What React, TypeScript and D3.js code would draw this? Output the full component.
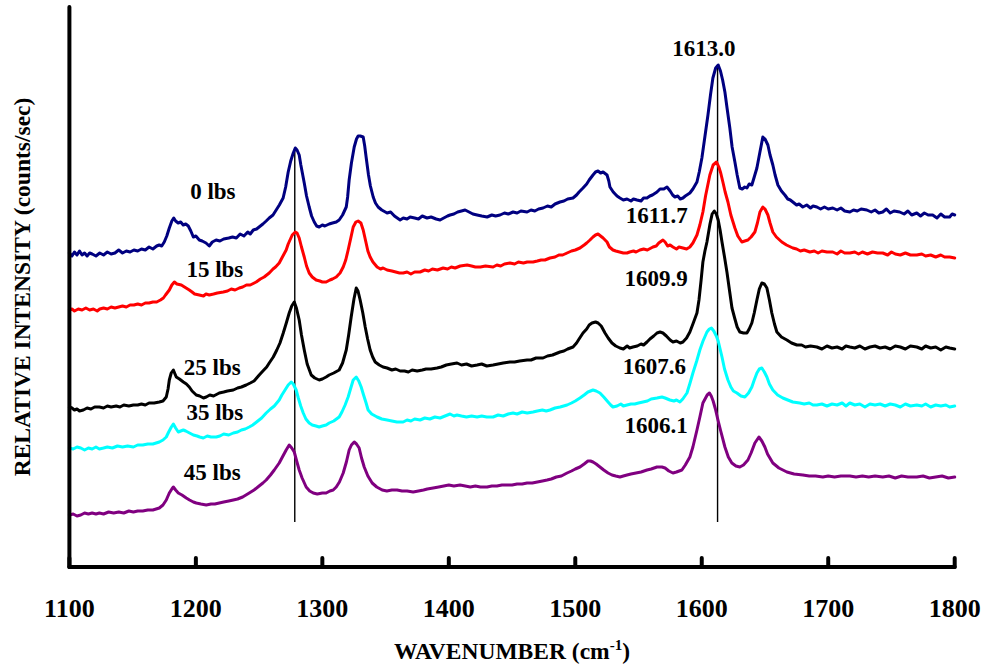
import React from "react";
import * as d3 from "d3";

// Wavenumber axis ticks (cm-1)
const xTicks = [1100, 1200, 1300, 1400, 1500, 1600, 1700, 1800];

// Raman spectra, [wavenumber, relative intensity] for each load
const spectrum0lbs: number[][] = [
  [1100,314],[1102,311],[1104,315],[1106,312],[1108,316],[1110,312],[1112,314],[1114,311],[1116,314],[1118,313],[1121,311],[1124,314],[1127,312],[1130,315],[1133,313],[1136,314],[1139,317],[1142,314],[1145,316],[1148,315],[1151,317],[1154,316],[1157,318],[1160,317],[1163,320],[1166,318],[1169,321],[1171,322],[1173,321],[1175,325],[1177,331],[1179,339],[1181,346],[1182.5,349],[1184,346],[1186,344],[1188,345],[1190,342],[1192,343],[1194,341],[1196,336],[1198,330],[1200,331],[1202.7,327],[1205,326],[1208,324],[1210.6,321],[1213,325],[1216,327],[1219,326],[1222,328],[1226,329],[1229,330],[1232,329],[1235,333],[1238,331],[1241,335],[1243,333],[1245.4,337],[1248,338],[1251,341],[1253,343],[1255.6,346],[1258,349],[1261,352],[1263.5,357],[1266,362],[1269,369],[1271,380],[1273,395],[1275,406],[1277,414],[1278.6,419],[1280,417],[1281.7,412],[1283,402],[1285.7,384],[1287.5,371],[1289.6,360],[1291.5,351],[1293.6,345],[1295.5,341],[1297.5,340],[1300,342],[1302,341],[1305.4,343],[1308,344],[1311,345],[1313.3,347],[1316,352],[1318.9,360],[1320,370],[1321.2,387],[1323,404],[1325.2,420],[1327,428],[1328.3,431],[1330,431],[1332.3,430],[1333.5,421],[1334.6,410],[1336.5,392],[1338,381],[1340.2,370],[1342,364],[1344.1,360],[1347,357],[1351.2,354],[1354,355],[1357,351],[1361.5,347],[1364,349],[1367,348],[1369.4,350],[1373,349],[1376,348],[1379,351],[1382.8,349],[1386,350],[1390,348],[1393.1,347],[1396,349],[1399,351],[1401,352],[1404,353],[1407,355],[1410,356],[1412.9,357],[1416,355],[1419,353],[1422.4,352],[1426,351],[1430.3,350],[1434,352],[1437,351],[1440.5,352],[1444,354],[1447,353],[1450.8,355],[1454,354],[1457,356],[1461.9,355],[1465,357],[1468,356],[1471,358],[1474.5,359],[1478,361],[1481,360],[1484,363],[1487.9,365],[1491,366],[1494,368],[1498.2,369],[1501,372],[1503,375],[1506.1,379],[1509,383],[1511,387],[1514,392],[1516,395],[1518,396],[1520,394],[1522,395],[1525.1,392],[1526.5,386],[1527.4,380],[1530,375],[1533,371],[1535.3,369],[1538,367],[1540.9,368],[1544,366],[1546,368],[1548.8,367],[1552,366],[1554,369],[1556.7,369],[1559,371],[1561,372],[1564.6,375],[1567,378],[1570,378],[1572.5,380],[1575,376],[1577,372],[1578.8,370],[1581,371],[1583,368],[1585.1,369],[1587,371],[1590.6,374],[1593,378],[1596.2,385],[1598,395],[1600.1,409],[1602,426],[1604.9,452],[1607,473],[1608.8,489],[1611,499],[1613,502],[1614.8,496],[1616.5,487],[1618.3,475],[1620,459],[1622.2,439],[1624,420],[1626.2,405],[1628,392],[1630.1,379],[1632,378],[1634,380],[1635.7,379],[1637.5,383],[1639.6,382],[1641.5,390],[1643.6,399],[1646,415],[1648.3,430],[1650,428],[1652.3,422],[1654,412],[1656.2,402],[1658,392],[1660.2,382],[1663,376],[1665.7,372],[1668,368],[1670,367],[1672,365],[1675,362],[1677,363],[1679.9,360],[1683,362],[1686,359],[1688,361],[1691,360],[1694,358],[1697,360],[1700,358],[1703.6,359],[1707,357],[1710,359],[1713,356],[1717.1,355],[1720,357],[1723,356],[1726,358],[1730.5,357],[1734,355],[1737,357],[1740,354],[1743.1,355],[1746,358],[1749,354],[1752,356],[1756.5,355],[1760,353],[1763,356],[1766,352],[1770,354],[1773,351],[1776,354],[1779,352],[1782.6,352],[1786,349],[1789,353],[1792,350],[1796,350],[1798,353],[1800,352]
];

const spectrum15lbs: number[][] = [
  [1100,257],[1102,258],[1104,256],[1107,258],[1110,257],[1113,259],[1116,257],[1119,258],[1122,256],[1124,258],[1127,259],[1130,258],[1133,260],[1136,259],[1139,260],[1142,261],[1145,260],[1148,262],[1151,262],[1154,263],[1157,262],[1160,264],[1163,264],[1166,265],[1169,265],[1172,267],[1174.3,269],[1176,272],[1179,277],[1181,282],[1183,285],[1185,283],[1188.5,282],[1191,280],[1194.8,277],[1197,275],[1199,273],[1202.7,272],[1206,271],[1208,273],[1210.6,272],[1214,273],[1217,274],[1221.7,275],[1225,276],[1228,278],[1231,277],[1234.3,279],[1237,280],[1240,282],[1243,282],[1247.7,285],[1251,288],[1254,290],[1258,294],[1261,298],[1263,300],[1265.9,304],[1268,309],[1271.4,317],[1273,323],[1276.2,332],[1278.6,335],[1280,334],[1281.7,329],[1283.5,320],[1285.7,310],[1287.5,301],[1289.6,294],[1292,290],[1295.1,287],[1298,286],[1300,285],[1303,285],[1306,287],[1308,288],[1311,290],[1314,294],[1316.5,300],[1318.5,307],[1320.4,317],[1322.5,329],[1324.4,340],[1326.5,345],[1328.3,346],[1330.5,344],[1332.3,337],[1334.6,324],[1336,316],[1337.8,310],[1340,305],[1343.3,300],[1346,298],[1348,299],[1351.2,297],[1355,296],[1358,295],[1361,294],[1363.9,294],[1367,295],[1370,293],[1373,295],[1377.3,295],[1381,297],[1384,296],[1387,298],[1391,297],[1395.5,299],[1399,298],[1402,300],[1405,299],[1409,301],[1414.5,302],[1418,301],[1421,300],[1425,300],[1429,301],[1435,300],[1438,302],[1441,301],[1444,303],[1448.4,304],[1452,303],[1455,305],[1459,304],[1462,305],[1466.6,305],[1470,306],[1473,307],[1476,307],[1480,309],[1484,310],[1487,312],[1490,312],[1493.5,314],[1497,316],[1500,317],[1503.7,319],[1507,322],[1509,324],[1511.6,327],[1514,330],[1516,332],[1518,333],[1520,331],[1522,329],[1525.1,325],[1527,320],[1529.8,317],[1532,316],[1535,315],[1538,314],[1540.9,314],[1543,315],[1546,316],[1548,315],[1551.1,317],[1554,318],[1557,317],[1561.4,320],[1564,321],[1566,324],[1569.3,327],[1571,325],[1573,321],[1575,322],[1577.2,320],[1580,318],[1582,320],[1585.1,319],[1588,318],[1590.6,320],[1593,324],[1596.2,332],[1598.5,342],[1600.9,355],[1603,371],[1606.4,392],[1609,402],[1611.7,405],[1613.5,400],[1615,394],[1616.7,385],[1618.5,375],[1620.7,365],[1623,352],[1626.2,339],[1628.5,331],[1631.7,325],[1634,326],[1636.5,327],[1639,330],[1642,335],[1644,344],[1646,355],[1648.3,360],[1650,358],[1652.3,352],[1654,344],[1656.2,335],[1659,330],[1663.3,325],[1667,322],[1672,319],[1675,318],[1678,316],[1681,317],[1685.5,315],[1689,316],[1692,314],[1695,316],[1699,315],[1703.6,315],[1707,313],[1710,316],[1713,314],[1717.1,314],[1721,315],[1724,313],[1727,315],[1731,313],[1735,315],[1739,314],[1743.1,314],[1747,312],[1750,315],[1753,313],[1757,312],[1761,314],[1765,312],[1770,312],[1774,313],[1777,311],[1781,312],[1785,310],[1789,312],[1792,310],[1796,310],[1800,309]
];

const spectrum25lbs: number[][] = [
  [1100,160],[1102,159],[1104,157],[1106,158],[1108,156],[1111,157],[1114,159],[1117,158],[1120,160],[1123.7,160],[1127,159],[1130,161],[1133,160],[1137,161],[1140,160],[1143,162],[1147,161],[1150.6,162],[1154,162],[1157,163],[1160,162],[1163,164],[1167,164],[1171.1,165],[1174,166],[1176.6,170],[1178,178],[1179,187],[1180.5,194],[1182.2,197],[1183.5,193],[1184.5,190],[1187,188],[1190.1,185],[1192.5,183],[1194.8,180],[1197,176],[1200.3,172],[1203,171],[1206,169],[1208.2,170],[1211,172],[1214,171],[1218.5,174],[1222,175],[1225,176],[1229.6,177],[1233,179],[1236,180],[1239.8,182],[1243,184],[1246,186],[1250.1,192],[1253,196],[1256,200],[1258,204],[1261.2,210],[1264,217],[1266.5,224],[1269.1,234],[1271.5,244],[1273.8,254],[1275.8,261],[1277.8,265],[1279.5,259],[1281.7,247],[1283.5,232],[1285.7,217],[1288,203],[1291.2,192],[1294,189],[1297.5,187],[1300,188],[1303,190],[1305.4,192],[1309,194],[1313.3,197],[1316,204],[1318.9,217],[1320.8,232],[1322.8,250],[1325,268],[1326.8,279],[1328.2,276],[1329.9,267],[1332,254],[1333.9,240],[1335.8,228],[1337.8,217],[1339.8,210],[1341.8,205],[1345,202],[1348,200],[1351.2,199],[1355,197],[1358,198],[1361.5,196],[1365,196],[1368,195],[1371,197],[1375,196],[1379,197],[1382,198],[1386,198],[1390.7,199],[1394,200],[1398,202],[1402,203],[1406.5,204],[1410,202],[1414,203],[1418,201],[1422.4,202],[1426,203],[1430,201],[1435,202],[1439,203],[1443,204],[1448.4,205],[1452,205],[1456,206],[1461.9,207],[1465,207],[1469,209],[1474.5,209],[1478,211],[1482,212],[1487.9,215],[1491,216],[1494,218],[1498.2,220],[1501,224],[1503,228],[1506.1,234],[1509,238],[1511,242],[1513.2,244],[1516,245],[1518,244],[1520.5,241],[1523.5,234],[1526,229],[1529,224],[1532,221],[1535.3,219],[1538,218],[1541,221],[1543,219],[1545.6,220],[1549,221],[1552,223],[1554,222],[1556.7,225],[1559,228],[1562,231],[1564.6,234],[1567,235],[1569.3,234],[1572,231],[1575,227],[1577.2,225],[1580,226],[1583,224],[1585.1,225],[1588,229],[1590.6,235],[1593,243],[1596.2,254],[1597.8,267],[1599.5,287],[1600.9,305],[1602.5,316],[1604.1,325],[1606.5,343],[1608.2,353],[1609.9,356],[1611.5,353],[1613,347],[1614.5,337],[1616,325],[1618,310],[1619.9,295],[1622,276],[1623.9,259],[1626,249],[1628,240],[1630.1,235],[1633,234],[1635.7,234],[1637.5,238],[1639.6,244],[1641.5,254],[1643.6,267],[1645.5,278],[1647.5,284],[1649.5,283],[1651.5,279],[1653.5,267],[1655.4,254],[1657.5,243],[1659.4,235],[1663,230],[1667.3,227],[1671,224],[1675.2,222],[1679,222],[1682,220],[1686,221],[1691,220],[1695,218],[1699,221],[1703,219],[1707,220],[1711,218],[1714,221],[1717.1,220],[1721,219],[1725,221],[1729,218],[1733,220],[1737,221],[1741,219],[1745,220],[1749,218],[1753,221],[1757,220],[1761,218],[1765,221],[1770,220],[1774,218],[1777,221],[1781,219],[1785,220],[1789,217],[1793,220],[1796,219],[1800,218]
];

const spectrum35lbs: number[][] = [
  [1100,119],[1103,118],[1106,120],[1109,119],[1112,117],[1115,119],[1118,118],[1121,120],[1123.7,118],[1127,119],[1130,120],[1134,119],[1138,121],[1142,120],[1146,121],[1150.6,120],[1154,122],[1158,122],[1162,123],[1166,123],[1171.1,125],[1174,127],[1176.6,130],[1178.5,135],[1180.6,140],[1182.2,143],[1184,139],[1186.1,135],[1188,136],[1190.1,137],[1192,136],[1195,134],[1198,132],[1201,131],[1203,130],[1205.9,129],[1209,131],[1212,130],[1216.1,130],[1219,131],[1222,133],[1226,132],[1229.6,134],[1233,135],[1236,137],[1239,138],[1242.2,140],[1245,142],[1248,145],[1252,149],[1255.6,154],[1259,158],[1262,161],[1265.9,167],[1268,172],[1270.5,177],[1273,182],[1275.4,185],[1277,183],[1279.3,177],[1281,169],[1282.9,161],[1284.9,154],[1287,148],[1289.6,144],[1292,142],[1295,141],[1297.5,140],[1300,141],[1303,142],[1305.4,144],[1309,146],[1313.3,150],[1315.5,155],[1318,162],[1320.4,170],[1322.5,179],[1324.4,187],[1326.8,190],[1328.8,186],[1330.7,180],[1332.6,172],[1334.6,164],[1336.2,157],[1339,153],[1343.3,150],[1347,148],[1351.2,147],[1355,146],[1359,145],[1363.9,145],[1367,147],[1370,146],[1373,148],[1377.3,147],[1381,149],[1385,148],[1389,150],[1393.1,149],[1397,151],[1401,153],[1404,151],[1406.5,152],[1410,151],[1414,150],[1418,151],[1422.4,150],[1426,151],[1430,150],[1435,150],[1439,152],[1443,151],[1447,153],[1450.8,154],[1454,153],[1458,155],[1462,154],[1466.6,155],[1470,156],[1474,157],[1477,156],[1480,157],[1484,159],[1488,160],[1493.5,162],[1497,164],[1500,166],[1503.7,169],[1507,172],[1510,175],[1512,176],[1514,177],[1516.5,176],[1519.5,174],[1522.5,170],[1525.9,165],[1528,162],[1529.8,160],[1533,161],[1536,163],[1538,161],[1540.9,162],[1544,163],[1547,163],[1550,164],[1553.5,165],[1557,166],[1560,168],[1564.6,169],[1568.5,170],[1571,169],[1574.8,167],[1578,166],[1580,167],[1582.7,165],[1585,168],[1588.3,174],[1590.5,183],[1593,194],[1596,206],[1598.5,217],[1601,226],[1604.1,235],[1606,238],[1607.6,239],[1609.5,236],[1611.5,231],[1613,226],[1614.5,218],[1616,210],[1618,198],[1620.7,187],[1623,180],[1625,176],[1627.8,174],[1631,171],[1634.1,170],[1637,174],[1639.6,180],[1641.5,187],[1643.6,194],[1645.5,198],[1647.5,199],[1649.5,195],[1651.5,190],[1653.5,183],[1656.2,177],[1660,172],[1664.1,169],[1668,167],[1672,165],[1677.5,164],[1681,163],[1685,164],[1688,162],[1691,162],[1695,163],[1699,161],[1703,163],[1707,162],[1711,164],[1714,161],[1717.1,164],[1721,162],[1725,163],[1729,160],[1733,163],[1737,162],[1741,163],[1745,161],[1749,163],[1753,162],[1757,160],[1761,163],[1765,161],[1770,162],[1774,161],[1777,163],[1781,160],[1785,162],[1789,161],[1793,162],[1796,160],[1800,161]
];

const spectrum45lbs: number[][] = [
  [1100,52],[1103,53],[1106,51],[1109,52],[1112,54],[1115,53],[1118,54],[1121,53],[1123.7,54],[1127,53],[1131,55],[1135,54],[1139,55],[1143,54],[1147,56],[1150.6,55],[1154,56],[1158,56],[1162,57],[1166,57],[1171.1,59],[1174,62],[1176.6,67],[1179,74],[1181,78],[1182.2,80],[1184,77],[1186.1,74],[1189,72],[1192.4,69],[1195,67],[1198,65],[1200.3,64],[1204,63],[1208.2,62],[1212,63],[1215,63],[1218.5,64],[1222,65],[1226,66],[1229.6,67],[1233,68],[1237,70],[1242.2,74],[1246,77],[1250,81],[1253,84],[1255.6,87],[1259,92],[1262,97],[1265.9,104],[1268,109],[1271.4,117],[1273.8,122],[1275.8,119],[1277.8,115],[1279.7,106],[1281.7,97],[1284,89],[1287.2,80],[1290,76],[1292.8,74],[1296,73],[1300,74],[1303,74],[1306,76],[1308.6,77],[1311,80],[1313.5,85],[1316.5,94],[1319,105],[1321.2,117],[1323,122],[1325.2,125],[1327,123],[1329.1,119],[1331,109],[1333.1,100],[1336,91],[1339.4,84],[1343,80],[1347.3,77],[1351,76],[1355,77],[1359.1,77],[1363,76],[1367,76],[1371.8,75],[1376,76],[1380,77],[1383,78],[1387.6,79],[1392,80],[1396,81],[1400,82],[1404,81],[1408.9,82],[1413,81],[1417,80],[1421,81],[1425,80],[1430.3,80],[1434,81],[1438,81],[1442,82],[1446.1,82],[1450,82],[1454,83],[1458,83],[1461.9,84],[1466,84],[1470,85],[1474,86],[1477.7,87],[1481,88],[1485,90],[1489,91],[1493.5,94],[1497,96],[1500,98],[1503.7,100],[1507,103],[1510,106],[1512,106],[1514,105],[1516.5,103],[1519.5,100],[1522.5,97],[1525.9,94],[1529,92],[1532,91],[1535.3,90],[1538,91],[1540.9,92],[1544,93],[1548,94],[1552,95],[1556.7,97],[1560,98],[1564.6,100],[1568.5,100],[1571,99],[1574,96],[1577.2,94],[1580,95],[1584.3,97],[1587,102],[1590.6,110],[1593,120],[1596.2,137],[1598.5,150],[1600.9,164],[1604.3,172],[1606.1,174],[1607.5,171],[1609,166],[1610.8,158],[1612.8,147],[1615,136],[1618.3,120],[1621,110],[1623.8,104],[1627,101],[1630.1,100],[1633,102],[1636.5,107],[1639,114],[1642,124],[1645.2,130],[1647.5,126],[1649.9,120],[1652,113],[1656.2,104],[1661,99],[1667.3,95],[1673,93],[1679.9,92],[1685,91],[1690,91],[1695.7,90],[1700,91],[1705,90],[1710,91],[1717.1,91],[1722,90],[1727,91],[1732,90],[1737,91],[1743.1,90],[1748,91],[1753,89],[1758,91],[1763,90],[1770,90],[1775,91],[1780,89],[1785,90],[1790,91],[1795,89],[1800,90]
];

const seriesData = [spectrum0lbs, spectrum15lbs, spectrum25lbs, spectrum35lbs, spectrum45lbs];
const seriesColors = ["#000080", "#FF0000", "#000000", "#00FFFF", "#800080"];
const seriesNames = ["0 lbs", "15 lbs", "25 lbs", "35 lbs", "45 lbs"];
// label anchor: [wavenumber, intensity] at the left end of each load label's baseline
const seriesLabelPos: number[][] = [[1195.5, 368.5], [1192.5, 290], [1190.5, 192], [1192.5, 147], [1190.5, 87]];

// Peak positions of the main ring-stretch band, one per load
const peakValues = [1613.0, 1611.7, 1609.9, 1607.6, 1606.1];
// [anchor wavenumber, baseline intensity] for each peak label; the first is centred, the rest end there
const peakLabelPos: number[][] = [[1601.6, 511], [1589, 344], [1589, 281], [1587.5, 193], [1589, 134]];

// Reference lines at the two band centres of the unloaded sample: [wavenumber, top, bottom]
const refLines: number[][] = [[1278.2, 419, 45], [1612.5, 501, 45]];

const FONT = "'Liberation Serif', 'Times New Roman', serif";

export default function App() {
  const width = 987;
  const height = 666;
  const x = d3.scaleLinear().domain([1100, 1800]).range([69.4, 954.7]);
  const y = d3.scaleLinear().domain([0, 560]).range([567, 7]);
  const line = d3
    .line<number[]>()
    .x((d) => x(d[0]))
    .y((d) => y(d[1]))
    .curve(d3.curveLinear);

  return (
    <svg
      width={width}
      height={height}
      style={{ position: "absolute", left: 0, top: 0, background: "#fff" }}
      fontFamily={FONT}
      fontWeight="bold"
    >
      <rect width={width} height={height} fill="#fff" />

      {refLines.map((r, i) => (
        <line key={"ref" + i} x1={x(r[0])} x2={x(r[0])} y1={y(r[1])} y2={y(r[2])} stroke="#000" strokeWidth={1.4} />
      ))}

      {seriesData.map((s, i) => (
        <path
          key={"s" + i}
          d={line(s) || ""}
          fill="none"
          stroke={seriesColors[i]}
          strokeWidth={3}
          strokeLinejoin="round"
          strokeLinecap="round"
        />
      ))}

      {seriesNames.map((n, i) => (
        <text key={"n" + i} x={x(seriesLabelPos[i][0])} y={y(seriesLabelPos[i][1])} fontSize={23} fill="#000">
          {n}
        </text>
      ))}

      {peakValues.map((p, i) => (
        <text
          key={"p" + i}
          x={x(peakLabelPos[i][0])}
          y={y(peakLabelPos[i][1])}
          fontSize={23}
          textAnchor={i === 0 ? "middle" : "end"}
          fill="#000"
        >
          {p.toFixed(1)}
        </text>
      ))}

      {/* axes */}
      <line x1={x(1100)} x2={x(1100)} y1={y(560)} y2={y(0)} stroke="#000" strokeWidth={4} strokeLinecap="round" />
      <line x1={x(1100)} x2={x(1800)} y1={y(0)} y2={y(0)} stroke="#000" strokeWidth={4} strokeLinecap="round" />
      {xTicks.map((t) => (
        <g key={"t" + t}>
          <line x1={x(t)} x2={x(t)} y1={y(0)} y2={y(0) - 9} stroke="#000" strokeWidth={4} strokeLinecap="round" />
          <text x={x(t)} y={617} fontSize={26} textAnchor="middle" fill="#000">
            {t}
          </text>
        </g>
      ))}

      <text x={512} y={659} fontSize={23.5} textAnchor="middle" fill="#000">
        WAVENUMBER (cm
        <tspan fontSize={15} dy={-9}>-1</tspan>
        <tspan dy={9}>)</tspan>
      </text>
      <text transform="translate(30,287) rotate(-90)" fontSize={23.5} textAnchor="middle" fill="#000">
        RELATIVE INTENSITY (counts/sec)
      </text>
    </svg>
  );
}
